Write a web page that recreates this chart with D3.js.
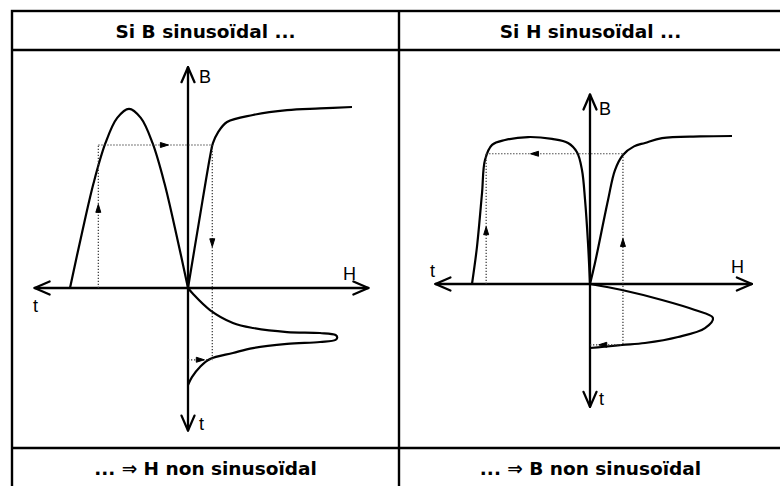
<!DOCTYPE html>
<html><head><meta charset="utf-8">
<script src="https://cdn.jsdelivr.net/npm/d3@7"></script>
<style>body{margin:0;background:#fff}svg{display:block}</style>
</head><body><svg id="c" width="780" height="486"></svg>
<script>
// ---- texts ----
const headerTitles = ["Si B sinusoïdal ...", "Si H sinusoïdal ..."];
const footerTitles = ["... ⇒ H non sinusoïdal", "... ⇒ B non sinusoïdal"];
const axisNames = ["B", "H", "t"];

// ---- left panel: B sinusoidal ----
const leftBt_t = [0, 10, 20, 30, 40, 50, 60, 70, 80, 90, 100];
const leftBt_B = [0, 30, 58, 80, 94, 99, 94, 80, 58, 30, 0];
const leftBH_H = [0, 6.7, 13.4, 15.2, 18.3, 23.8, 39.6, 60.4, 80.5, 100];
const leftBH_B = [0, 36.5, 72.4, 80, 86, 91.7, 95.6, 98.3, 99.2, 100];
const leftHt_t = [0, 6, 22.7, 36, 41.2, 45.4, 46.4, 48.5, 51, 53.5, 55.7, 57.7, 61.9, 67, 73.2, 81.4, 91.8, 100];
const leftHt_H = [0, 3, 13.4, 27.4, 39.6, 60.4, 80.5, 90, 91, 90, 80.5, 60.4, 39.6, 27.4, 13.4, 7.3, 2.4, 0];
const leftProj = {tLeft: 76, B: 79, H: 14.8, tDown: 74};   // dotted construction
const leftExtent = {H: 110, tLeft: 130, B: 122, tDown: 147};

// ---- right panel: H sinusoidal ----
const rightBt_t = [0, 1.7, 4.2, 6.8, 11, 18.6, 32.2, 52.5, 72, 83, 89, 91.5, 95.8, 100];
const rightBt_B = [0, 27.7, 56.8, 77, 89, 95.3, 98, 99.3, 97.3, 94, 83.8, 61.5, 25, 0];
const rightBH_H = [0, 3.5, 12.7, 17.6, 23.2, 31, 38.7, 50.7, 77.5, 100];
const rightBH_B = [0, 14.2, 56.8, 77, 87.2, 93, 95.3, 98.6, 99.7, 100];
const rightHt_t = [0, 9.4, 25, 40.6, 53, 68.8, 82.8, 92.2, 95.3, 98.4, 100];
const rightHt_H = [0, 22.5, 50.7, 73.9, 86.6, 81, 62, 38.7, 22.5, 8.5, 0];
const rightProj = {tLeft: 88, B: 88, H: 23.2, tDown: 95};
const rightExtent = {H: 114, tLeft: 131, B: 128, tDown: 192};

const svg = d3.select("#c");

// ---- table ----
const table = {x0: 12, x1: 782, xm: 399, y0: 11, yh: 50, yf: 448, y1: 492};
const tg = svg.append("g").attr("stroke", "#000").attr("stroke-width", 2.4).attr("fill", "none");
tg.append("rect").attr("x", table.x0).attr("y", table.y0).attr("width", table.x1 - table.x0).attr("height", table.y1 - table.y0);
tg.append("line").attr("x1", table.x0).attr("x2", table.x1).attr("y1", table.yh).attr("y2", table.yh);
tg.append("line").attr("x1", table.x0).attr("x2", table.x1).attr("y1", table.yf).attr("y2", table.yf);
tg.append("line").attr("x1", table.xm).attr("x2", table.xm).attr("y1", table.y0).attr("y2", table.y1);

const cellCenters = [(table.x0 + table.xm) / 2, (table.xm + table.x1) / 2];
const titleFont = "DejaVu Sans, Verdana, sans-serif";
svg.selectAll("text.head").data(headerTitles).join("text").attr("class", "head")
  .attr("x", (d, i) => cellCenters[i]).attr("y", (table.y0 + table.yh) / 2 + 1)
  .attr("text-anchor", "middle").attr("dominant-baseline", "central")
  .attr("font-family", titleFont).attr("font-weight", "bold").attr("font-size", 18.5)
  .text(d => d);
svg.selectAll("text.foot").data(footerTitles).join("text").attr("class", "foot")
  .attr("x", (d, i) => cellCenters[i]).attr("y", 468)
  .attr("text-anchor", "middle").attr("dominant-baseline", "central")
  .attr("font-family", titleFont).attr("font-weight", "bold").attr("font-size", 18.5)
  .text(d => d);

function zip(a, b) { return a.map((v, i) => [v, b[i]]); }

function panel(cfg) {
  const g = svg.append("g");
  const {hx, by, tl, td, ext} = cfg;
  const ox = hx(0), oy = by(0);
  const ink = "#000";
  // axes
  const ax = g.append("g").attr("stroke", ink).attr("stroke-width", 2.3).attr("fill", "none").attr("stroke-linecap", "round").attr("stroke-linejoin", "round");
  const xl = tl(ext.tLeft), xr = hx(ext.H), yt = by(ext.B), yb = td(ext.tDown);
  ax.append("line").attr("x1", xl).attr("x2", xr).attr("y1", oy).attr("y2", oy);
  ax.append("line").attr("x1", ox).attr("x2", ox).attr("y1", yt).attr("y2", yb);
  const a = 15, w = 6.5;
  ax.append("path").attr("d", `M${xl + a},${oy - w}L${xl},${oy}L${xl + a},${oy + w}`);
  ax.append("path").attr("d", `M${xr - a},${oy - w}L${xr},${oy}L${xr - a},${oy + w}`);
  ax.append("path").attr("d", `M${ox - w},${yt + a}L${ox},${yt}L${ox + w},${yt + a}`);
  ax.append("path").attr("d", `M${ox - w},${yb - a}L${ox},${yb}L${ox + w},${yb - a}`);

  // curves
  const cg = g.append("g").attr("stroke", ink).attr("stroke-width", 2.2).attr("fill", "none").attr("stroke-linejoin", "round");
  const line = d3.line().curve(d3.curveCatmullRom.alpha(0.5));
  cg.append("path").attr("d", line(zip(cfg.Bt_t, cfg.Bt_B).map(([t, b]) => [tl(t), by(b)])));
  cg.append("path").attr("d", line(zip(cfg.BH_H, cfg.BH_B).map(([h, b]) => [hx(h), by(b)])));
  cg.append("path").attr("d", line(zip(cfg.Ht_t, cfg.Ht_H).map(([t, h]) => [hx(h), td(t)])));

  // dotted construction
  const p = cfg.proj;
  const dg = g.append("g").attr("stroke", "#333").attr("stroke-width", 1.2).attr("stroke-dasharray", "1.3,1.7").attr("fill", "none");
  dg.append("line").attr("x1", tl(p.tLeft)).attr("x2", tl(p.tLeft)).attr("y1", oy).attr("y2", by(p.B));
  dg.append("line").attr("x1", tl(p.tLeft)).attr("x2", hx(p.H)).attr("y1", by(p.B)).attr("y2", by(p.B));
  dg.append("line").attr("x1", hx(p.H)).attr("x2", hx(p.H)).attr("y1", by(p.B)).attr("y2", td(p.tDown));
  dg.append("line").attr("x1", ox).attr("x2", hx(p.H)).attr("y1", td(p.tDown)).attr("y2", td(p.tDown));

  // small arrows on dotted lines
  const ag = g.append("g").attr("fill", ink).attr("stroke", ink).attr("stroke-width", 1);
  cfg.arrows.forEach(([x, y, dir]) => {
    const s = 4;
    let d;
    if (dir === "up") d = `M${x - 2.5},${y + s}L${x},${y - s}L${x + 2.5},${y + s}Z`;
    if (dir === "down") d = `M${x - 2.5},${y - s}L${x},${y + s}L${x + 2.5},${y - s}Z`;
    if (dir === "right") d = `M${x - s},${y - 2.5}L${x + s},${y}L${x - s},${y + 2.5}Z`;
    if (dir === "left") d = `M${x + s},${y - 2.5}L${x - s},${y}L${x + s},${y + 2.5}Z`;
    ag.append("path").attr("d", d);
  });

  // labels
  const lg = g.append("g").attr("font-family", "Liberation Sans, Arial, sans-serif").attr("font-size", 18).attr("fill", ink);
  cfg.labels.forEach(([txt, x, y]) => lg.append("text").attr("x", x).attr("y", y).text(txt));
}

// left panel
{
  const hx = d3.scaleLinear([0, 100], [188, 352]);
  const by = d3.scaleLinear([0, 100], [288, 107]);
  const tl = d3.scaleLinear([0, 100], [188, 70]);
  const td = d3.scaleLinear([0, 100], [288, 385]);
  const p = leftProj;
  panel({hx, by, tl, td, ext: leftExtent,
    Bt_t: leftBt_t, Bt_B: leftBt_B, BH_H: leftBH_H, BH_B: leftBH_B, Ht_t: leftHt_t, Ht_H: leftHt_H, proj: p,
    arrows: [[tl(p.tLeft), by(44), "up"], [tl(20), by(p.B), "right"], [hx(p.H), by(25), "down"], [hx(7.5), td(p.tDown), "right"]],
    labels: [[axisNames[0], 199, 83], [axisNames[1], 343, 280], [axisNames[2], 33, 312], [axisNames[2], 199, 430]]
  });
}
// right panel
{
  const hx = d3.scaleLinear([0, 100], [590, 732]);
  const by = d3.scaleLinear([0, 100], [284, 136]);
  const tl = d3.scaleLinear([0, 100], [590, 472]);
  const td = d3.scaleLinear([0, 100], [284, 348]);
  const p = rightProj;
  panel({hx, by, tl, td, ext: rightExtent,
    Bt_t: rightBt_t, Bt_B: rightBt_B, BH_H: rightBH_H, BH_B: rightBH_B, Ht_t: rightHt_t, Ht_H: rightHt_H, proj: p,
    arrows: [[tl(p.tLeft), by(36), "up"], [tl(47), by(p.B), "left"], [hx(p.H), by(28), "up"], [hx(9), td(p.tDown), "left"]],
    labels: [[axisNames[0], 599, 115], [axisNames[1], 731, 273], [axisNames[2], 430, 277], [axisNames[2], 599, 405]]
  });
}
</script></body></html>
